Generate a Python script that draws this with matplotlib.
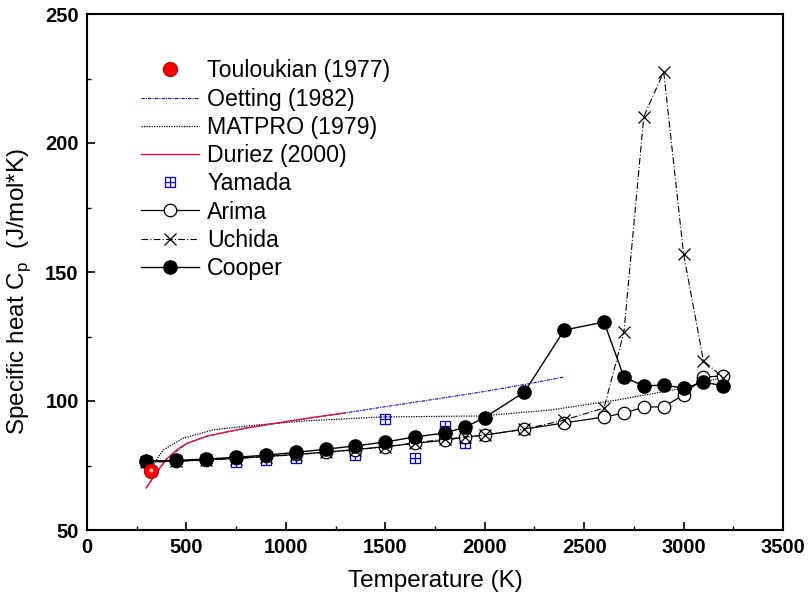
import numpy as np
import matplotlib
matplotlib.use("Agg")
import matplotlib.pyplot as plt
from matplotlib.ticker import MultipleLocator
from matplotlib.path import Path

plt.rcParams['font.family'] = ['Liberation Sans', 'DejaVu Sans']
plt.rcParams['mathtext.fontset'] = 'custom'
plt.rcParams['mathtext.rm'] = 'Liberation Sans'

# Temperatures (K) for the Arima / Uchida / Cooper series
temp = [298, 450, 600, 750, 900, 1050, 1200, 1350, 1500, 1650, 1800, 1900,
        2000, 2200, 2400, 2600, 2700, 2800, 2900, 3000, 3100, 3200]

cooper = [76.7, 77.0, 77.5, 78.2, 79.0, 80.1, 81.3, 82.6, 84.1, 86.1, 87.6, 89.8,
          93.6, 103.5, 127.5, 130.6, 109.3, 105.8, 106.2, 105.0, 107.2, 106.0]
arima = [76.4, 76.7, 77.2, 77.8, 78.5, 79.3, 80.2, 81.2, 82.3, 83.6, 84.8, 86.0,
         86.8, 89.1, 91.5, 93.8, 95.3, 97.6, 97.8, 102.3, 109.2, 109.8]
uchida = [76.3, 76.6, 77.1, 77.7, 78.4, 79.2, 80.1, 81.1, 82.2, 83.8, 85.2, 86.0,
          86.8, 89.1, 92.6, 97.3, 126.7, 210.2, 227.6, 157.0, 115.6, 109.0]

# Yamada
yam_t = [298, 750, 900, 1050, 1200, 1350, 1500, 1650, 1800, 1900]
yam_cp = [76.8, 76.3, 77.1, 77.8, 80.2, 79.2, 93.0, 77.9, 90.5, 83.8]

# Touloukian (1977)
tou_t = [322]
tou_cp = [72.8]

# Duriez (2000)
dur_t = [298, 350, 400, 450, 500, 600, 700, 800, 1000, 1150, 1300]
dur_cp = [66.3, 72.5, 77.5, 81.0, 83.5, 86.3, 88.0, 89.5, 92.0, 93.8, 95.4]

# Oetting (1982)
oet_t = [298, 400, 500, 600, 800, 1000, 1300, 1500, 1800, 2000, 2200, 2400]
oet_cp = [66.3, 77.5, 83.5, 86.3, 89.5, 92.0, 95.4, 97.8, 101.3, 103.7, 106.4, 109.3]

# MATPRO (1979)
mat_t = [330, 342, 383, 484, 634, 855, 1100, 1475, 1978, 2330, 2667, 3000, 3200]
mat_cp = [73.5, 76.4, 81.0, 85.6, 88.8, 90.7, 92.3, 93.8, 94.2, 96.5, 100.4, 105.0, 109.3]

# square with a cross inside, for the Yamada points
grid_sq = Path([(-1, -1), (1, -1), (1, 1), (-1, 1), (-1, -1),
                (0, -1), (0, 1), (-1, 0), (1, 0)],
               [Path.MOVETO, Path.LINETO, Path.LINETO, Path.LINETO, Path.CLOSEPOLY,
                Path.MOVETO, Path.LINETO, Path.MOVETO, Path.LINETO])

fig = plt.figure(figsize=(8.08, 6.02), dpi=100)
ax = fig.add_axes([87 / 808, 1 - 530 / 602, 696 / 808, 516 / 602])

ax.plot(tou_t, tou_cp, 'o', color='#ff0000', mec='#cc0000', ms=10, zorder=6,
        label='Touloukian (1977)')
ax.plot(tou_t, [v + 0.6 for v in tou_cp], 'o', color='#ffb0b0', ms=3, zorder=7,
        mec='none')
ax.plot(oet_t, oet_cp, color='blue', lw=0.8, ls=(0, (3, 1, 1, 1)), zorder=2,
        label='Oetting (1982)')
ax.plot(mat_t, mat_cp, color='black', lw=0.9, ls=(0, (1, 1)), zorder=2,
        label='MATPRO (1979)')
ax.plot(dur_t, dur_cp, color='#ee1133', lw=1.0, zorder=3, label='Duriez (2000)')
ax.plot(yam_t, yam_cp, ls='none', marker=grid_sq, ms=7, mfc='none', mec='blue',
        mew=0.9, zorder=3, label='Yamada')
ax.plot(temp, arima, color='black', lw=0.9, marker='o', ms=9, mfc='white',
        mec='black', mew=0.9, zorder=4, label='Arima')
ax.plot(temp, uchida, color='black', lw=0.8, ls=(0, (6, 2, 1, 2)), marker='x',
        ms=9, mew=0.9, zorder=4, label='Uchida')
ax.plot(temp, cooper, color='black', lw=1.0, marker='o', ms=9.5, mfc='black',
        zorder=5, label='Cooper')

ax.set_xlim(0, 3500)
ax.set_ylim(50, 250)
ax.xaxis.set_major_locator(MultipleLocator(500))
ax.xaxis.set_minor_locator(MultipleLocator(250))
ax.yaxis.set_major_locator(MultipleLocator(50))
ax.yaxis.set_minor_locator(MultipleLocator(25))
ax.tick_params(direction='in', length=6, width=1.2, labelsize=14.5, pad=6)
ax.tick_params(which='minor', direction='in', length=3, width=1)
for lab in ax.get_xticklabels() + ax.get_yticklabels():
    lab.set_fontweight('bold')
for s in ax.spines.values():
    s.set_linewidth(1.5)

ax.set_xlabel('Temperature (K)', fontsize=17.5, labelpad=9)
ax.set_ylabel('Specific heat C$_\\mathregular{p}$  (J/mol*K)', fontsize=17.5)
ax.yaxis.set_label_coords(-0.078, 0.463)

ax.legend(loc='upper left', bbox_to_anchor=(54 / 696, 0.912), frameon=False,
          fontsize=16.7, handlelength=2.5, handletextpad=0.35, labelspacing=0.225,
          borderpad=0, borderaxespad=0)

fig.savefig('out.png', dpi=100)
